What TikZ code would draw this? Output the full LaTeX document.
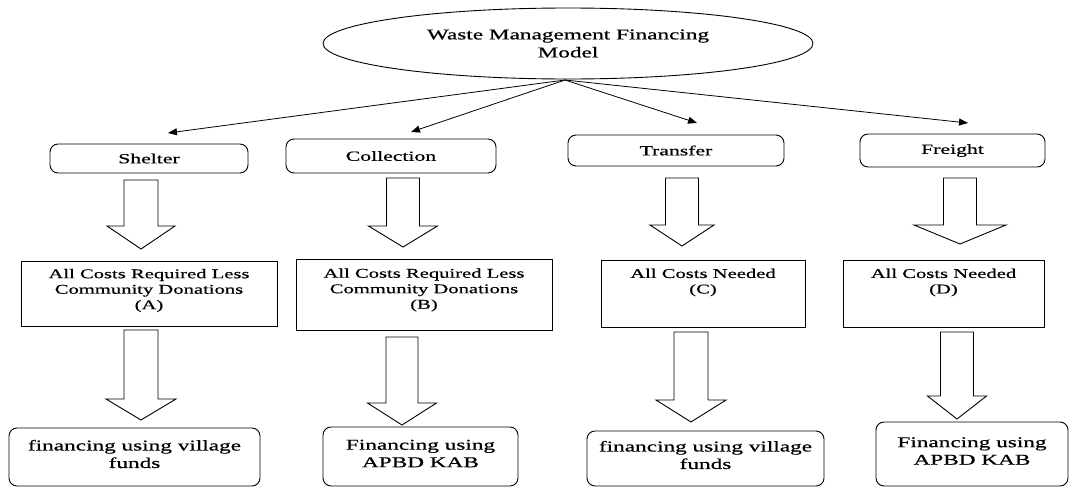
\documentclass[tikz,border=0pt]{standalone}
\usepackage{fontspec}
\setmainfont[FakeStretch=1.55,FakeBold=0.6]{Liberation Serif}
\usetikzlibrary{shapes.geometric,arrows.meta}
\newcommand\barrow[6]{% cx, top, neck, tip, shaft half width, head half width
  \draw[blockline] (#1-#5,#2) -- (#1+#5,#2) -- (#1+#5,#3) -- (#1+#6,#3) -- (#1,#4)
    -- (#1-#6,#3) -- (#1-#5,#3) -- cycle;}
\tikzset{
  blockline/.style={draw=black, line width=0.9pt, fill=white, line join=miter},
  rbox/.style={draw, line width=0.9pt, rounded corners=8pt, inner sep=0pt},
  sbox/.style={draw, line width=0.9pt, inner sep=0pt},
  txt/.style={align=center, inner sep=0pt},
  conn/.style={line width=0.8pt, -{Triangle[length=9pt,width=7pt]}},
  topfont/.style={font=\fontsize{15}{18}\selectfont},
  f1/.style={font=\fontsize{14}{16}\selectfont},
  f2/.style={font=\fontsize{13.3}{15.5}\selectfont},
  f3/.style={font=\fontsize{15}{17.5}\selectfont},
}
\begin{document}
\begin{tikzpicture}[x=1pt,y=-1pt]
\useasboundingbox[fill=white] (0,0) rectangle (1073,488);
% top ellipse
\node[draw, ellipse, line width=0.9pt, minimum width=490pt, minimum height=71pt, inner sep=0pt, align=center, topfont] (E) at (568,43.5) {Waste Management Financing\\Model};
\coordinate (o) at (565,80);
% first row
\node[rbox, txt, f1, minimum width=198pt, minimum height=29pt] (s1) at (149,158.5) {Shelter};
\node[rbox, txt, f1, minimum width=210pt, minimum height=34pt] (s2) at (391,156) {Collection};
\node[rbox, txt, f1, minimum width=216pt, minimum height=31pt] (s3) at (676,150.5) {Transfer};
\node[rbox, txt, f1, minimum width=185pt, minimum height=33pt] (s4) at (952.5,150.5) {Freight};
\coordinate (t1) at (168,133);
\coordinate (t2) at (411,132);
\coordinate (t3) at (697,123);
\coordinate (t4) at (968,123);
\draw[conn] (o) -- (t1);
\draw[conn] (o) -- (t2);
\draw[conn] (o) -- (t3);
\draw[conn] (o) -- (t4);
% block arrows row 1
\barrow{141}{180}{226}{249}{17}{34}
\barrow{403}{178}{226}{247}{16.5}{34.5}
\barrow{682}{178}{225}{246}{16.5}{32}
\barrow{960}{178}{225}{244}{16.5}{46}
% second row
\node[sbox, minimum width=256pt, minimum height=65pt] (c1) at (149,293.5) {};
\node[txt, f2] (c1t) at (149,290.5) {All Costs Required Less\\Community Donations\\(A)};
\node[sbox, minimum width=256pt, minimum height=71pt] (c2) at (424,294.5) {};
\node[txt, f2] (c2t) at (424,290) {All Costs Required Less\\Community Donations\\(B)};
\node[sbox, minimum width=204pt, minimum height=67pt] (c3) at (703,293.5) {};
\node[txt, f2] (c3t) at (703,282.5) {All Costs Needed\\(C)};
\node[sbox, minimum width=201pt, minimum height=67pt] (c4) at (943.5,293.5) {};
\node[txt, f2] (c4t) at (943.5,282.5) {All Costs Needed\\(D)};
% block arrows row 2
\barrow{141}{330}{399}{420}{17}{35}
\barrow{402}{337}{403}{425}{16}{34.5}
\barrow{691}{332}{400}{422}{17}{35}
\barrow{957}{332}{396}{419}{16.5}{29.5}
% bottom row
\node[rbox, minimum width=251pt, minimum height=58pt] (b1) at (134.5,457) {};
\node[txt, f3] (b1t) at (134.5,454) {financing using village\\funds};
\node[rbox, minimum width=195pt, minimum height=59pt] (b2) at (420.5,456.5) {};
\node[txt, f3] (b2t) at (420.5,453.5) {Financing using\\APBD KAB};
\node[rbox, minimum width=237pt, minimum height=55pt] (b3) at (705.5,458.5) {};
\node[txt, f3] (b3t) at (705.5,455) {financing using village\\funds};
\node[rbox, minimum width=192pt, minimum height=64pt] (b4) at (972,454) {};
\node[txt, f3] (b4t) at (972,451) {Financing using\\APBD KAB};
\end{tikzpicture}
\end{document}
